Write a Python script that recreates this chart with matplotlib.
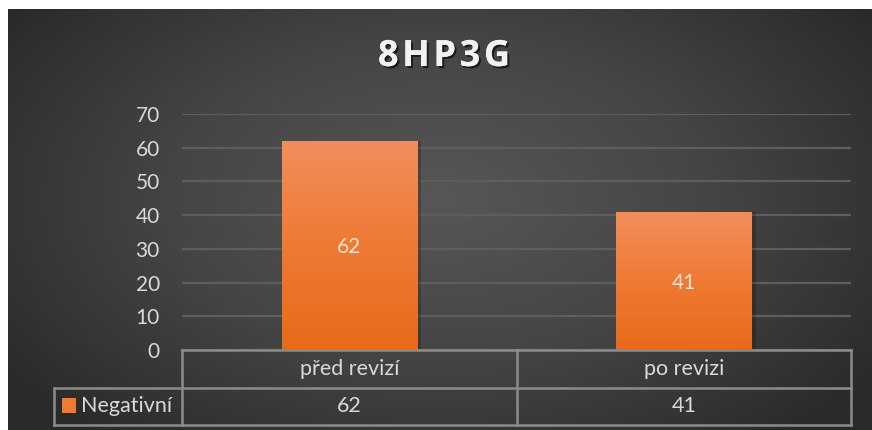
import numpy as np
import matplotlib.pyplot as plt
import matplotlib.patheffects as pe
from matplotlib.transforms import blended_transform_factory
from matplotlib.colors import LinearSegmentedColormap

# data
title = "8HP3G"
categories = ["před revizí", "po revizi"]
series_name = "Negativní"
values = [62, 41]
yticks = [0, 10, 20, 30, 40, 50, 60, 70]

plt.rcParams['font.family'] = ['Lato', 'DejaVu Sans']
txt = '#d9d9d9'
edge = '#8c8c8c'

W, H = 872, 430
fig = plt.figure(figsize=(W / 100, H / 100), dpi=100, facecolor='white')

# radial background
bg = fig.add_axes([8 / W, 0, (W - 8) / W, (H - 9) / H])
bg.set_axis_off()
yy, xx = np.mgrid[0:1:300j, 0:1:600j]
r = np.sqrt(((xx - 0.5) / 0.62) ** 2 + ((yy - 0.45) / 0.75) ** 2)
r = np.clip(r, 0, 1)
bgmap = LinearSegmentedColormap.from_list('bg', ['#575757', '#454545', '#2a2a2a'])
bg.imshow(r, cmap=bgmap, aspect='auto', extent=[0, 1, 0, 1], vmin=0, vmax=1)
bg.set_xlim(0, 1)
bg.set_ylim(0, 1)

# title with a bit of letter spacing
shadow = [pe.withSimplePatchShadow(offset=(1.5, -1.5), shadow_rgbFace='black', alpha=0.6), pe.Normal()]
fig.text(444 / W, 1 - 57 / H, "\u200a".join(title), ha='center', va='center', fontsize=26,
         fontweight='bold', color='#f2f2f2', family=['Open Sans', 'DejaVu Sans'],
         path_effects=shadow)

ax = fig.add_axes([182 / W, (H - 350) / H, 669 / W, 236 / H])
ax.patch.set_alpha(0)
x = np.arange(len(categories))
ax.set_yticks(yticks)
ax.yaxis.grid(True, color='#5e5e5e', linewidth=1.6)
ax.set_axisbelow(True)
ax.tick_params(axis='y', length=0, labelsize=15, labelcolor=txt, pad=16)
ax.tick_params(axis='x', length=0, labelbottom=False)
for s in ax.spines.values():
    s.set_visible(False)

bars = ax.bar(x, values, width=0.404, color='#ed7d31', zorder=2)
barmap = LinearSegmentedColormap.from_list('bar', ['#e86a19', '#ee7a34', '#f28e5c'])
grad = np.linspace(0, 1, 256).reshape(-1, 1)
for b, v in zip(bars, values):
    bx, bw = b.get_x(), b.get_width()
    # soft shadow
    ax.bar(bx + bw / 2 + 0.008, v, width=bw + 0.01, color='black', alpha=0.18, zorder=1.5)
    im = ax.imshow(grad, cmap=barmap, origin='lower', aspect='auto',
                   extent=[bx, bx + bw, 0, v], zorder=2.5)
    im.set_clip_path(b)
    ax.text(bx + bw / 2, v / 2 - 0.5, str(v), ha='center', va='center', fontsize=15,
            color='#fbe3d4', zorder=3)
ax.set_xlim(-0.5, len(categories) - 0.5)
ax.set_ylim(0, 70)

# data table below the axes
tr = blended_transform_factory(ax.transData, ax.transAxes)
px = (len(categories)) / 669.0
r0, r1, r2 = 0.0, -38 / 236, -75 / 236
left_leg = -0.5 - 128 * px
xl, xr = -0.5, len(categories) - 0.5
lk = dict(color=edge, linewidth=1.8, transform=tr, clip_on=False, solid_capstyle='projecting')
ax.plot([xl, xr], [r0, r0], **lk)
ax.plot([left_leg, xr], [r1, r1], **lk)
ax.plot([left_leg, xr], [r2, r2], **lk)
ax.plot([left_leg, left_leg], [r1, r2], **lk)
ax.plot([xl, xl], [r0, r2], **lk)
for i in range(len(categories)):
    ax.plot([i + 0.5, i + 0.5], [r0, r2], **lk)
    ax.text(i, (r0 + r1) / 2, categories[i], ha='center', va='center', fontsize=15.5,
            color=txt, transform=tr, clip_on=False)
    ax.text(i, (r1 + r2) / 2, str(values[i]), ha='center', va='center', fontsize=15.5,
            color=txt, transform=tr, clip_on=False)

fig.patches.append(plt.Rectangle((62 / W, 1 - 413 / H), 14 / W, 15 / H, transform=fig.transFigure,
                                 facecolor='#ee7a34', edgecolor='none'))
fig.text(81 / W, 1 - 406 / H, series_name, ha='left', va='center', fontsize=15.5, color=txt)

fig.savefig('out.png', dpi=100, facecolor='white')
